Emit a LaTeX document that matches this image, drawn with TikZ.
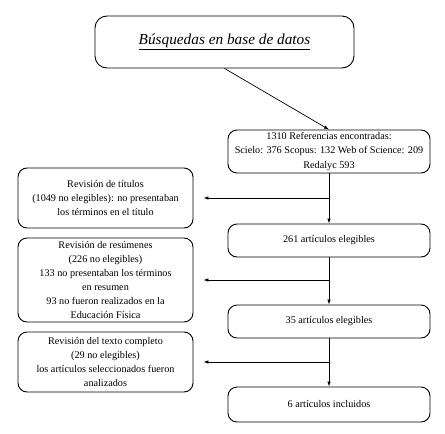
\documentclass[tikz,border=0pt]{standalone}
\usepackage{fontspec}
\setmainfont{Liberation Serif}
\usetikzlibrary{arrows.meta}

\tikzset{
  caja/.style={draw,rounded corners=9pt,line width=0.9pt,align=center,
    font=\fontsize{10.2}{14.2}\selectfont,inner sep=0pt},
  der/.style={caja,minimum width=202pt},
  izq/.style={caja,minimum width=175pt},
  flecha/.style={-{Latex[length=5pt,width=3.5pt]},line width=0.7pt}
}

\begin{document}
\begin{tikzpicture}
[x=1pt,y=-1pt]
\useasboundingbox (0,0) rectangle (445,434);

\node[caja,rounded corners=12pt,minimum width=259pt,minimum height=52pt,
  font=\fontsize{15.3}{17}\selectfont\itshape] (busq) at (224.5,42) {\underline{Búsquedas en base de datos}};

\node[der,minimum height=43pt] (refs) at (329,151.5) {1310 Referencias encontradas:\\Scielo: 376 Scopus: 132 Web of Science: 209\\Redalyc 593};
\node[der,minimum height=33pt] (e261) at (329,240.5) {261 artículos elegibles};
\node[der,minimum height=33pt] (e35) at (329,321.5) {35 artículos elegibles};
\node[der,minimum height=35pt] (incl) at (329,404.5) {6 artículos incluidos};

\node[izq,minimum height=60pt] (tit) at (105.5,198) {Revisión de títulos\\(1049 no elegibles): no presentaban\\los términos en el título};
\node[izq,minimum height=84pt] (res) at (105.5,280) {Revisión de resúmenes\\(226 no elegibles)\\133 no presentaban los términos\\en resumen\\93 no fueron realizados en la\\Educación Física};
\node[izq,minimum height=60pt] (txt) at (105.5,362) {Revisión del texto completo\\(29 no elegibles)\\los artículos seleccionados fueron\\analizados};

\draw[flecha] (busq.south) -- (refs.north);
\draw[flecha] (refs.south) -- (e261.north);
\draw[flecha] (e261.south) -- (e35.north);
\draw[flecha] (e35.south) -- (incl.north);

% exclusiones
\draw[flecha,shorten >=10pt] (refs.south |- tit.east) -- (tit.east);
\draw[flecha,shorten >=10pt] (refs.south |- res.east) -- (res.east);
\draw[flecha,shorten >=10pt] (refs.south |- txt.east) -- (txt.east);
\end{tikzpicture}
\end{document}
